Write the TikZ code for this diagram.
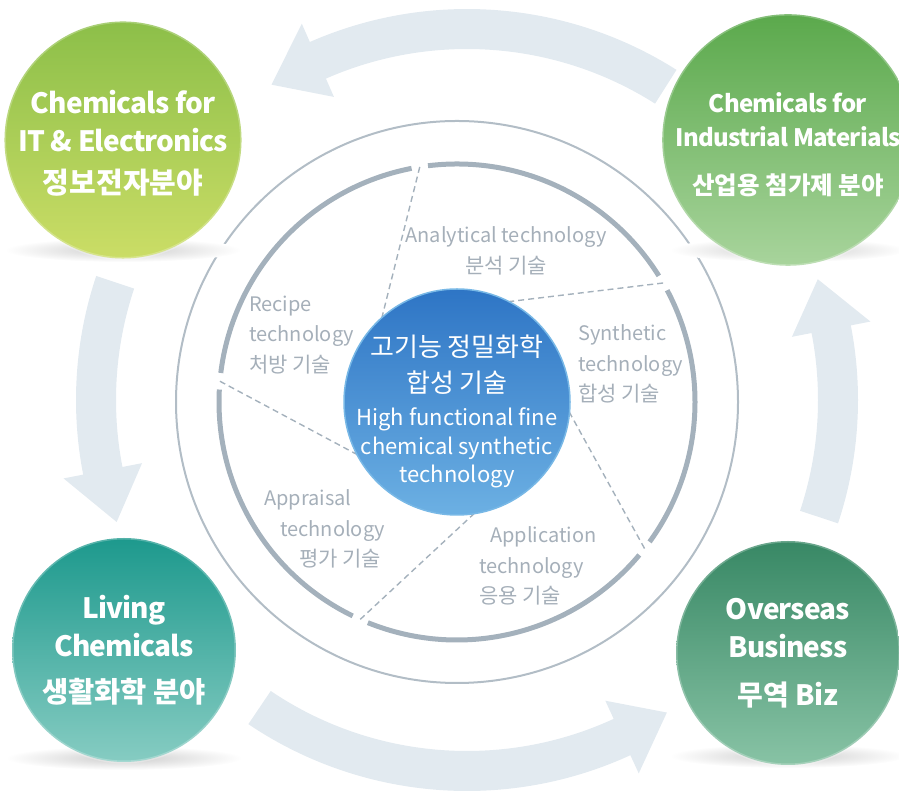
\documentclass[tikz,border=0pt]{standalone}
\usepackage{fontspec}
\setmainfont{Noto Sans CJK KR}
\newfontfamily\fieldfont[LetterSpace=-3]{Noto Sans CJK KR}
\usetikzlibrary{positioning}
\definecolor{ittop}{HTML}{8CBF49}
\definecolor{itbottom}{HTML}{CBDD66}
\definecolor{indtop}{HTML}{5BA94C}
\definecolor{indbottom}{HTML}{A8D49C}
\definecolor{livtop}{HTML}{1D998D}
\definecolor{livbottom}{HTML}{86CCC2}
\definecolor{ovstop}{HTML}{388865}
\definecolor{ovsbottom}{HTML}{88C3A5}
\definecolor{hubtop}{HTML}{2E75C5}
\definecolor{hubbottom}{HTML}{6CB0E3}
\definecolor{hubrim}{HTML}{78B8E6}
\definecolor{ringgray}{HTML}{A4B1BC}
\definecolor{outergray}{HTML}{B2BDC6}
\definecolor{labelgray}{HTML}{A5AFB9}
\definecolor{arrowblue}{HTML}{E2EAF0}

\begin{document}
\begin{tikzpicture}[x=1pt, y=1pt,
  field/.style = {shape=circle, minimum size=224pt, inner sep=0pt,
    align=center, text=white, draw=white, draw opacity=0.25, line width=3pt},
  hub/.style = {shape=circle, minimum size=226pt, inner sep=0pt,
    top color=hubtop, bottom color=hubbottom, draw=hubrim, line width=1.5pt},
  hubtext/.style = {align=center, text=white, inner sep=0pt},
  techlabel/.style = {align=left, text=labelgray, inner sep=0pt,
    font=\fontsize{20}{30.5}\selectfont},
  ring/.style = {draw=ringgray, line width=5pt},
  spoke/.style = {draw=ringgray, line width=1.4pt, dash pattern=on 6pt off 4pt},
  cyclearrow/.style = {fill=arrowblue},
  fieldshadow/.style = {inner color=black!20, outer color=white}]
  \useasboundingbox (0,0) rectangle (899,791);

  \begin{scope}[shift={(467,391)}]
    \foreach \ta/\tb/\tc in {57.6/113.7/121.8, 161.5/191/199.2,
                             236/294.7/302.6, -18.4/11/19}
      \fill[cyclearrow] (\ta:391) arc[start angle=\ta, end angle=\tb, radius=391]
        -- (\tb:411) -- (\tc:371) -- (\tb:331) -- (\tb:351)
        arc[start angle=\tb, end angle=\ta, radius=351] -- cycle;
  \end{scope}

  \coordinate (core) at (457,389);
  \draw[draw=outergray, line width=2pt] (core) circle[radius=281];
  \foreach \ga/\gb in {-38/30, 30/99, 99/175, 175/246, 246/322}
    \draw[ring] ([shift={(\ga+2:238)}]core)
      arc[start angle=\ga+2, end angle=\gb-2, radius=238];
  \foreach \ga in {-38, 30, 99, 175, 246}
    \draw[spoke] ([shift={(\ga:238)}]core) -- ([shift={(\ga+46:100)}]core);

  \node[hub] (hub) at (core) {};
  \node[hubtext, font=\fontsize{26}{36}\selectfont] (hubkr)
    at ([yshift=37pt]hub.center) {고기능 정밀화학\\합성 기술};
  \node[hubtext, font=\fontsize{22}{28.5}\selectfont] (huben)
    at ([yshift=-46pt]hub.center) {High functional fine\\chemical synthetic\\technology};

  \node[techlabel, align=center] (analysis) at (506,540)
    {Analytical technology\\{\fontsize{21}{30}\selectfont 분석 기술}};
  \node[techlabel, anchor=west] (recipe) at (249,456)
    {Recipe\\technology\\{\fontsize{21}{30}\selectfont 처방 기술}};
  \node[techlabel, anchor=west] (synthesis) at (578,427)
    {Synthetic\\technology\\{\fontsize{21}{30}\selectfont 합성 기술}};
  \node[techlabel, anchor=west] (appraisal) at (264,262)
    {Appraisal\\\hspace*{16pt}technology\\\hspace*{35pt}{\fontsize{21}{30}\selectfont 평가 기술}};
  \node[techlabel, anchor=west] (application) at (479,225)
    {\hspace*{11pt}Application\\technology\\{\fontsize{21}{30}\selectfont 응용 기술}};

  \shade[fieldshadow] (123,541) ellipse (118 and 12);
  \shade[fieldshadow] (788,541) ellipse (118 and 12);
  \shade[fieldshadow] (124,33) ellipse (118 and 12);
  \shade[fieldshadow] (788,35) ellipse (118 and 12);

  \node[field, top color=ittop, bottom color=itbottom,
    font=\fieldfont\bfseries\fontsize{28}{38}\selectfont] (itfield) at (123,651)
    {\\[-8pt]Chemicals for\\IT \& Electronics\\[4pt]{\normalfont\bfseries\fontsize{29}{38}\selectfont 정보전자분야}};
  \node[field, top color=indtop, bottom color=indbottom,
    font=\fieldfont\bfseries\fontsize{24}{34}\selectfont] (indfield) at (788,651)
    {\\[-4pt]Chemicals for\\Industrial Materials\\[14pt]{\normalfont\bfseries\fontsize{24.5}{34}\selectfont 산업용 첨가제 분야}};
  \node[field, top color=livtop, bottom color=livbottom,
    font=\fieldfont\bfseries\fontsize{28}{38}\selectfont] (livfield) at (124,141)
    {Living\\Chemicals\\[8pt]{\normalfont\bfseries\fontsize{28.5}{38}\selectfont 생활화학 분야}};
  \node[field, top color=ovstop, bottom color=ovsbottom,
    font=\fieldfont\bfseries\fontsize{28}{38}\selectfont] (ovsfield) at (788,138)
    {Overseas\\Business\\[10pt]{\normalfont\bfseries\fontsize{28}{38}\selectfont 무역 Biz}};
\end{tikzpicture}
\end{document}
